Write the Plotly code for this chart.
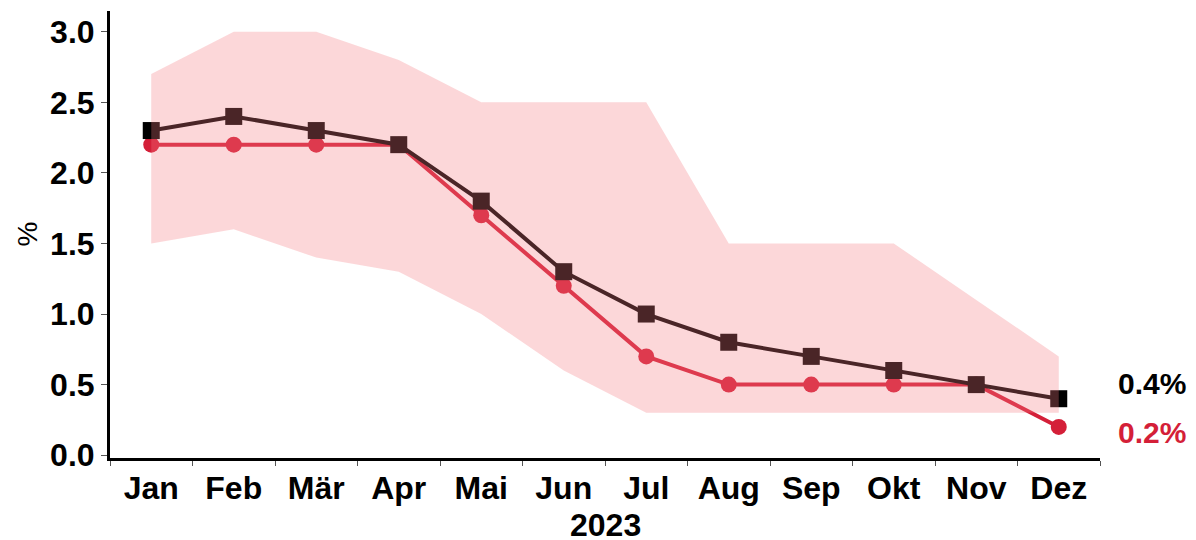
import plotly.graph_objects as go

months = ["Jan", "Feb", "Mär", "Apr", "Mai", "Jun", "Jul", "Aug", "Sep", "Okt", "Nov", "Dez"]
band_upper = [2.7, 3.0, 3.0, 2.8, 2.5, 2.5, 2.5, 1.5, 1.5, 1.5, 1.1, 0.7]
band_lower = [1.5, 1.6, 1.4, 1.3, 1.0, 0.6, 0.3, 0.3, 0.3, 0.3, 0.3, 0.3]
series_black = [2.3, 2.4, 2.3, 2.2, 1.8, 1.3, 1.0, 0.8, 0.7, 0.6, 0.5, 0.4]
series_red = [2.2, 2.2, 2.2, 2.2, 1.7, 1.2, 0.7, 0.5, 0.5, 0.5, 0.5, 0.2]
y_ticks = [0.0, 0.5, 1.0, 1.5, 2.0, 2.5, 3.0]

BLACK = "#000000"
RED = "#d41f38"
FONT = "Liberation Sans, Arial, sans-serif"

fig = go.Figure()

fig.add_trace(go.Scatter(
    x=months, y=series_red, mode="lines+markers",
    line=dict(color=RED, width=4),
    marker=dict(symbol="circle", size=16, color=RED),
    showlegend=False, cliponaxis=False,
))
fig.add_trace(go.Scatter(
    x=months, y=series_black, mode="lines+markers",
    line=dict(color=BLACK, width=4),
    marker=dict(symbol="square", size=17, color=BLACK),
    showlegend=False, cliponaxis=False,
))
# band drawn on top, semi-transparent
fig.add_trace(go.Scatter(
    x=months + months[::-1], y=band_upper + band_lower[::-1],
    fill="toself", fillcolor="rgba(245,122,129,0.3)",
    line=dict(width=0), mode="lines", hoverinfo="skip",
    showlegend=False,
))

fig.add_annotation(x=1, xref="paper", y=series_black[-1], yref="y",
                   text="<b>0.4%</b>", showarrow=False, xanchor="left",
                   xshift=16, yshift=15, font=dict(family=FONT, size=30, color=BLACK))
fig.add_annotation(x=1, xref="paper", y=series_red[-1], yref="y",
                   text="<b>0.2%</b>", showarrow=False, xanchor="left",
                   xshift=16, yshift=-6, font=dict(family=FONT, size=30, color=RED))
# axis titles
fig.add_annotation(x=0.5, xref="paper", y=-0.150, yref="paper",
                   text="<b>2023</b>", showarrow=False, xanchor="center", yanchor="middle",
                   font=dict(family=FONT, size=32, color="black"))
fig.add_annotation(x=-0.0838, xref="paper", y=0.5, yref="paper",
                   text="%", textangle=-90, showarrow=False, xanchor="center", yanchor="middle",
                   font=dict(family=FONT, size=28, color="black"))

fig.update_layout(
    width=1188, height=532,
    margin=dict(l=102, r=96, t=3, b=82),
    paper_bgcolor="white", plot_bgcolor="white",
    font=dict(family=FONT, color="black"),
)
fig.update_xaxes(
    type="category", range=[-0.5, 11.5], automargin=False,
    showline=True, linecolor="black", linewidth=3,
    ticks="outside", tickson="boundaries", ticklen=5, tickcolor="#555", tickwidth=1,
    tickfont=dict(family=FONT, size=32, weight="bold", color="black"),
    showgrid=False, zeroline=False,
)
fig.update_yaxes(
    range=[-0.02, 3.147], tickvals=y_ticks, ticktext=[f"{v:.1f}" for v in y_ticks],
    automargin=False,
    showline=True, linecolor="black", linewidth=3,
    ticks="outside", ticklen=6, tickcolor="#555", tickwidth=1,
    tickfont=dict(family=FONT, size=32, weight="bold", color="black"),
    showgrid=False, zeroline=False,
)

fig.write_html("out.html")
